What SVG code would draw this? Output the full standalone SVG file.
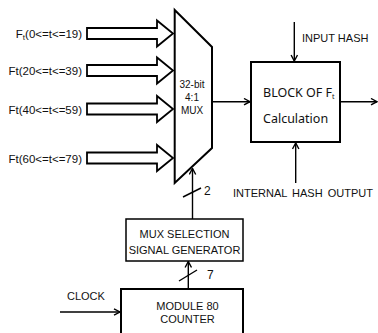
<svg xmlns="http://www.w3.org/2000/svg" width="378" height="333" viewBox="0 0 378 333">
<style>
.t{font-family:"Liberation Sans",Arial,sans-serif;fill:#111}
.b{fill:#fff;stroke:#000}
.ln{fill:none;stroke:#000;stroke-width:1.4}
.ha{fill:#fff;stroke:#000;stroke-width:1.8;stroke-linejoin:miter}
</style>
<defs>
<path id="hollow" d="M87,-5.5 H157 V-13 L173,0 L157,13 V5.5 H87 Z"/>
<marker id="ah" markerWidth="8" markerHeight="8" refX="7" refY="4" orient="auto" markerUnits="userSpaceOnUse">
<path d="M1,0.8 L7,4 L1,7.2" fill="none" stroke="#000" stroke-width="1.4"/>
</marker>
</defs>
<rect width="378" height="333" fill="#fff"/>

<g id="inputs">
<use href="#hollow" class="ha" transform="translate(0,33.5)"/>
<use href="#hollow" class="ha" transform="translate(0,70.5)"/>
<use href="#hollow" class="ha" transform="translate(0,109)"/>
<use href="#hollow" class="ha" transform="translate(0,158)"/>
<text class="t" font-size="11.5" x="82" y="37.5" text-anchor="end">F<tspan font-size="8" dy="2">t</tspan><tspan dy="-2">(0&lt;=t&lt;=19)</tspan></text>
<text class="t" font-size="11.5" x="82" y="75" text-anchor="end">Ft(20&lt;=t&lt;=39)</text>
<text class="t" font-size="11.5" x="82" y="114" text-anchor="end">Ft(40&lt;=t&lt;=59)</text>
<text class="t" font-size="11.5" x="82" y="163" text-anchor="end">Ft(60&lt;=t&lt;=79)</text>
</g>

<g id="mux">
<path d="M174.7,10 L212,47 V148 L174.7,183 Z" fill="#fff" stroke="#000" stroke-width="2"/>
<text class="t" font-size="10" x="192" y="88" text-anchor="middle">32-bit</text>
<text class="t" font-size="10" x="192" y="101" text-anchor="middle">4:1</text>
<text class="t" font-size="10" x="192" y="114" text-anchor="middle">MUX</text>
</g>

<g id="block">
<rect class="b" x="251" y="62" width="89" height="80" stroke-width="2"/>
<text font-family="'Noto Sans','Open Sans',sans-serif" font-size="12.5" x="263" y="96.5" fill="#111">BLOCK OF F<tspan font-size="7" dy="2">t</tspan></text>
<text font-family="'Noto Sans','Open Sans',sans-serif" font-size="12.5" x="263" y="122.5" fill="#111">Calculation</text>
</g>

<g id="muxsel">
<rect class="b" x="126" y="219" width="117" height="42" stroke-width="1.5"/>
<text class="t" font-size="11" x="184.5" y="238" text-anchor="middle">MUX SELECTION</text>
<text class="t" font-size="11" x="184.5" y="254" text-anchor="middle">SIGNAL GENERATOR</text>
</g>

<g id="counter">
<rect class="b" x="121" y="289" width="122" height="60" stroke-width="2"/>
<text class="t" font-size="11" x="187.5" y="310" text-anchor="middle">MODULE  80</text>
<text class="t" font-size="11" x="187.5" y="323" text-anchor="middle">COUNTER</text>
</g>

<g id="labels">
<text class="t" font-size="11" x="302" y="42">INPUT  HASH</text>
<text class="t" font-size="11" x="233" y="197" word-spacing="2">INTERNAL HASH OUTPUT</text>
<text class="t" font-size="11" x="67" y="300">CLOCK</text>
<text class="t" font-size="12" x="204" y="194.5">2</text>
<text class="t" font-size="12" x="207" y="279">7</text>
</g>

<g id="connectors">
<line class="ln" x1="212" y1="101.7" x2="250" y2="101.7" marker-end="url(#ah)"/>
<line class="ln" x1="340" y1="101.7" x2="377" y2="101.7" marker-end="url(#ah)"/>
<line class="ln" x1="294.3" y1="22" x2="294.3" y2="61" marker-end="url(#ah)"/>
<line class="ln" x1="295.7" y1="183" x2="295.7" y2="143" marker-end="url(#ah)"/>
<line class="ln" x1="192.5" y1="219" x2="192.5" y2="168.5" marker-end="url(#ah)"/>
<line class="ln" x1="183" y1="197" x2="201" y2="188"/>
<line class="ln" x1="188.3" y1="288" x2="188.3" y2="261.5" marker-end="url(#ah)"/>
<line class="ln" x1="179" y1="281" x2="197" y2="270"/>
<line class="ln" x1="60" y1="312" x2="120" y2="312" marker-end="url(#ah)"/>
</g>
</svg>
